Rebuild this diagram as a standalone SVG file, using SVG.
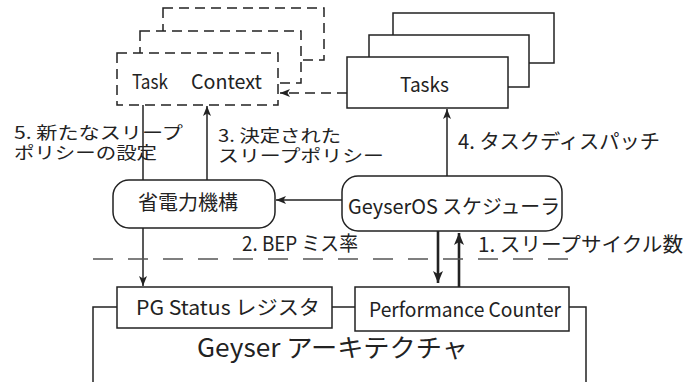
<svg xmlns="http://www.w3.org/2000/svg" width="686" height="382" viewBox="0 0 686 382">
  <defs>
    <style>
      .box { fill: #fff; stroke: #222; stroke-width: 1.5; }
      .dbox { fill: #fff; stroke: #222; stroke-width: 1.5; stroke-dasharray: 10 6; }
      .ln { fill: none; stroke: #222; stroke-width: 1.5; }
      .thick { fill: none; stroke: #222; stroke-width: 2.6; }
      .t { font-family: "Noto Sans CJK JP", "Liberation Sans", sans-serif; font-size: 20px; fill: #222; }
      .sm { font-size: 17px; }
      .big { font-size: 25px; }
    </style>
    <marker id="arr" markerUnits="userSpaceOnUse" viewBox="0 0 10 8" refX="10" refY="4" markerWidth="10" markerHeight="8" orient="auto">
      <path d="M0,0 L10,4 L0,8 L2.5,4 z" fill="#222"/>
    </marker>
    <marker id="arrBig" markerUnits="userSpaceOnUse" viewBox="0 0 12 10" refX="12" refY="5" markerWidth="12" markerHeight="10" orient="auto">
      <path d="M0,0 L12,5 L0,10 L3,5 z" fill="#222"/>
    </marker>
  </defs>

  <rect width="686" height="382" fill="#fff"/>

  <!-- Geyser architecture container (open at the bottom) -->
  <g id="geyser-arch">
    <path class="ln" d="M93,382 V307 H586 V382"/>
    <text class="t big" x="197" y="357" textLength="271" lengthAdjust="spacingAndGlyphs">Geyser アーキテクチャ</text>
  </g>

  <!-- connectors -->
  <g id="connectors">
    <line class="ln" x1="143" y1="105" x2="143" y2="180"/>
    <line class="ln" x1="143" y1="228" x2="143" y2="286" marker-end="url(#arr)"/>
    <line class="ln" x1="207" y1="180" x2="207" y2="106" marker-end="url(#arr)"/>
    <line class="ln" x1="447" y1="176" x2="447" y2="109" marker-end="url(#arr)"/>
    <line class="ln" x1="342" y1="200" x2="276" y2="200" marker-end="url(#arr)"/>
    <line class="ln" x1="347" y1="93" x2="280" y2="93" stroke-dasharray="10 6" marker-end="url(#arr)"/>
    <line class="thick" x1="438" y1="231" x2="438" y2="283" marker-end="url(#arrBig)"/>
    <line class="thick" x1="459" y1="287" x2="459" y2="233" marker-end="url(#arrBig)"/>
    <line x1="93" y1="259" x2="570" y2="259" stroke="#555" stroke-width="1.6" stroke-dasharray="20 15"/>
  </g>

  <!-- Task Context (stacked, dashed) -->
  <g id="task-context">
    <rect class="dbox" x="163" y="8" width="161" height="52"/>
    <rect class="dbox" x="140" y="31" width="161" height="52"/>
    <rect class="dbox" x="117" y="53" width="161" height="52"/>
    <text class="t" x="132" y="89" textLength="36" lengthAdjust="spacingAndGlyphs">Task</text>
    <text class="t" x="191" y="89" textLength="71" lengthAdjust="spacingAndGlyphs">Context</text>
  </g>

  <!-- Tasks (stacked) -->
  <g id="tasks">
    <rect class="box" x="393" y="13" width="161" height="50"/>
    <rect class="box" x="369" y="35" width="160" height="52"/>
    <rect class="box" x="347" y="57" width="161" height="51"/>
    <text class="t" x="400" y="92" textLength="49" lengthAdjust="spacingAndGlyphs">Tasks</text>
  </g>

  <!-- power management unit -->
  <g id="power-unit">
    <rect class="box" x="113" y="180" width="162" height="48" rx="16"/>
    <text class="t" x="138" y="210" textLength="100" lengthAdjust="spacingAndGlyphs">省電力機構</text>
  </g>

  <!-- GeyserOS scheduler -->
  <g id="scheduler">
    <rect class="box" x="342" y="176" width="220" height="55" rx="16"/>
    <text class="t" x="348" y="214" textLength="212" lengthAdjust="spacingAndGlyphs">GeyserOS スケジューラ</text>
  </g>

  <!-- PG Status register -->
  <g id="pg-status">
    <rect class="box" x="117" y="287" width="215" height="41"/>
    <text class="t" x="136" y="315" textLength="184" lengthAdjust="spacingAndGlyphs">PG Status レジスタ</text>
  </g>

  <!-- Performance Counter -->
  <g id="perf-counter">
    <rect class="box" x="355" y="287" width="214" height="44"/>
    <text class="t" x="369" y="317" textLength="192" lengthAdjust="spacingAndGlyphs">Performance Counter</text>
  </g>

  <!-- connector labels -->
  <g id="labels">
    <text class="t sm"><tspan x="14" y="139" textLength="169" lengthAdjust="spacingAndGlyphs">5. 新たなスリープ</tspan><tspan x="14" y="159" textLength="143" lengthAdjust="spacingAndGlyphs">ポリシーの設定</tspan></text>
    <text class="t sm"><tspan x="218" y="142" textLength="123" lengthAdjust="spacingAndGlyphs">3. 決定された</tspan><tspan x="218" y="162" textLength="166" lengthAdjust="spacingAndGlyphs">スリープポリシー</tspan></text>
    <text class="t" x="458" y="149" textLength="202" lengthAdjust="spacingAndGlyphs">4. タスクディスパッチ</text>
    <text class="t" x="242" y="251" textLength="116" lengthAdjust="spacingAndGlyphs">2. BEP ミス率</text>
    <text class="t" x="478" y="252" textLength="205" lengthAdjust="spacingAndGlyphs">1. スリープサイクル数</text>
  </g>
</svg>
